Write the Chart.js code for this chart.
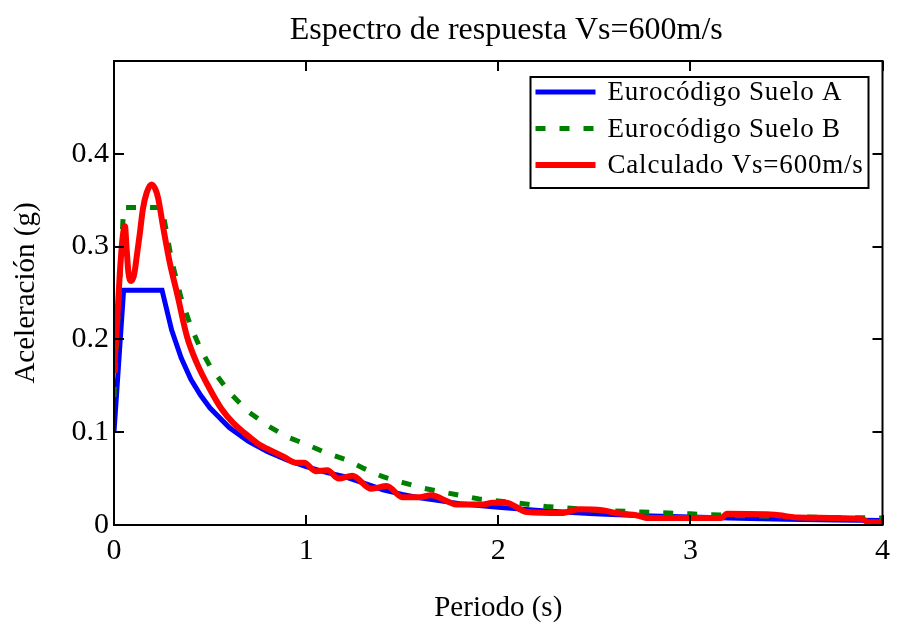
<!DOCTYPE html>
<html>
<head>
<meta charset="utf-8">
<script src="https://cdn.jsdelivr.net/npm/chart.js@4.4.1/dist/chart.umd.min.js"></script>
<style>
  html, body { margin: 0; padding: 0; background: #fff; }
  #wrap { width: 898px; height: 626px; }
</style>
</head>
<body>
<div id="wrap"><canvas id="chart" width="898" height="626"></canvas></div>
<script>
// periodos (s) de los espectros del Eurocódigo
const periodsEC = [0, 0.05, 0.25, 0.3, 0.35, 0.4, 0.45, 0.5, 0.6, 0.7, 0.8, 0.9, 1.0, 1.1, 1.2,
  1.3, 1.4, 1.5, 1.6, 1.7, 1.8, 1.9, 2.0, 2.25, 2.5, 2.75, 3.0, 3.25, 3.5, 3.75, 4.0];
const sueloA = [0.100, 0.253, 0.253, 0.210, 0.180, 0.157, 0.140, 0.126, 0.105, 0.090, 0.079, 0.070, 0.063, 0.057, 0.052,
  0.045, 0.038, 0.033, 0.029, 0.026, 0.023, 0.021, 0.019, 0.015, 0.012, 0.010, 0.0085, 0.0072, 0.0062, 0.0054, 0.0048];
const sueloB = [0.138, 0.342, 0.342, 0.285, 0.244, 0.214, 0.190, 0.171, 0.143, 0.122, 0.107, 0.095, 0.087, 0.078, 0.071,
  0.061, 0.052, 0.046, 0.040, 0.036, 0.032, 0.028, 0.026, 0.020, 0.016, 0.014, 0.012, 0.010, 0.009, 0.008, 0.0075];

// espectro calculado
const periodsCalc = [0, 0.015, 0.03, 0.045, 0.057, 0.065, 0.075, 0.09, 0.105, 0.12, 0.135, 0.15, 0.17, 0.195,
  0.215, 0.23, 0.255, 0.29, 0.33, 0.38, 0.43, 0.5, 0.56, 0.62, 0.68, 0.74, 0.76, 0.81, 0.88, 0.95, 0.99,
  1.05, 1.11, 1.17, 1.24, 1.34, 1.42, 1.5, 1.59, 1.65, 1.74, 1.78, 1.92, 1.97, 2.04, 2.15, 2.33, 2.42,
  2.54, 2.61, 2.73, 2.77, 3.16, 3.19, 3.44, 3.56, 3.89, 3.93, 4.0];
const calculado = [0.164, 0.215, 0.270, 0.310, 0.322, 0.300, 0.272, 0.263, 0.270, 0.292, 0.315, 0.340, 0.358, 0.367,
  0.362, 0.352, 0.322, 0.283, 0.248, 0.203, 0.175, 0.146, 0.125, 0.110, 0.099, 0.089, 0.086, 0.081, 0.074, 0.067, 0.067,
  0.058, 0.059, 0.050, 0.053, 0.039, 0.042, 0.030, 0.030, 0.032, 0.025, 0.022, 0.022, 0.024, 0.024, 0.014, 0.013, 0.017,
  0.016, 0.013, 0.010, 0.0075, 0.0075, 0.012, 0.011, 0.008, 0.0065, 0.003, 0.003];

const xTicks = [0, 1, 2, 3, 4];
const yTicks = [0, 0.1, 0.2, 0.3, 0.4];
const titulo = 'Espectro de respuesta Vs=600m/s';

const serif = '"Liberation Serif", "Times New Roman", serif';
const toPoints = (xs, ys) => xs.map((x, i) => ({ x: x, y: ys[i] }));

// titulo, marco, marcas interiores y leyenda con recuadro
const frame = {
  id: 'frame',
  afterDatasetsDraw(chart) {
    const c = chart.ctx;
    const a = chart.chartArea;
    const sx = chart.scales.x, sy = chart.scales.y;
    c.save();
    c.fillStyle = '#000';
    c.font = '32px ' + serif;
    c.textAlign = 'center';
    c.textBaseline = 'alphabetic';
    c.fillText(titulo, (a.left + a.right) / 2 + 8, 39);

    c.strokeStyle = '#000';
    c.lineWidth = 2;
    c.strokeRect(a.left, a.top, a.right - a.left, a.bottom - a.top);
    c.beginPath();
    xTicks.forEach(v => {
      const px = Math.round(sx.getPixelForValue(v));
      c.moveTo(px, a.bottom); c.lineTo(px, a.bottom - 10);
      c.moveTo(px, a.top); c.lineTo(px, a.top + 10);
    });
    yTicks.forEach(v => {
      const py = Math.round(sy.getPixelForValue(v));
      c.moveTo(a.left, py); c.lineTo(a.left + 10, py);
      c.moveTo(a.right, py); c.lineTo(a.right - 10, py);
    });
    c.stroke();

    // leyenda
    const bx = a.right - 352, by = a.top + 16, bw = 338, bh = 111;
    c.fillStyle = '#fff';
    c.fillRect(bx, by, bw, bh);
    c.strokeRect(bx, by, bw, bh);
    c.font = '27px ' + serif;
    c.textBaseline = 'middle';
    c.textAlign = 'left';
    if ('letterSpacing' in c) c.letterSpacing = '0.8px';
    chart.data.datasets.forEach((ds, i) => {
      const y = by + 15 + i * 36.5;
      c.save();
      c.strokeStyle = ds.borderColor;
      c.lineWidth = ds.borderWidth;
      c.setLineDash(ds.borderDash || []);
      c.beginPath();
      c.moveTo(bx + 5, y); c.lineTo(bx + 65, y);
      c.stroke();
      c.restore();
      c.fillStyle = '#000';
      c.fillText(ds.label, bx + 77, y + 1);
    });
    c.restore();
  }
};

const ctx = document.getElementById('chart').getContext('2d');
new Chart(ctx, {
  type: 'line',
  data: {
    datasets: [
      { label: 'Eurocódigo Suelo A', data: toPoints(periodsEC, sueloA), borderColor: '#0000ff',
        borderWidth: 5, pointRadius: 0, tension: 0, order: 2 },
      { label: 'Eurocódigo Suelo B', data: toPoints(periodsEC, sueloB), borderColor: '#008000',
        borderWidth: 5, borderDash: [10, 14], pointRadius: 0, tension: 0, order: 1 },
      { label: 'Calculado Vs=600m/s', data: toPoints(periodsCalc, calculado), borderColor: '#ff0000',
        borderWidth: 6, pointRadius: 0, cubicInterpolationMode: 'monotone', order: 0 }
    ]
  },
  options: {
    responsive: false,
    animation: false,
    devicePixelRatio: 1,
    layout: { padding: { left: 0, right: 14, top: 61, bottom: 0 } },
    plugins: {
      legend: { display: false },
      tooltip: { enabled: false },
      title: { display: false }
    },
    scales: {
      x: {
        type: 'linear', min: 0, max: 4,
        afterBuildTicks: s => { s.ticks = xTicks.map(v => ({ value: v })); },
        afterFit: s => { s.height = 101; },
        grid: { display: false, drawTicks: false },
        border: { display: false },
        ticks: { color: '#000', font: { family: serif, size: 30 }, padding: 8, maxRotation: 0,
          callback: v => String(v) },
        title: { display: true, text: 'Periodo (s)', color: '#000',
          font: { family: serif, size: 29 }, padding: { top: 2, bottom: 0 } }
      },
      y: {
        type: 'linear', min: 0, max: 0.5,
        afterBuildTicks: s => { s.ticks = yTicks.map(v => ({ value: v })); },
        afterFit: s => { s.width = 114; },
        grid: { display: false, drawTicks: false },
        border: { display: false },
        ticks: { color: '#000', font: { family: serif, size: 30 }, padding: 5,
          callback: v => v === 0 ? '0' : v.toFixed(1) },
        title: { display: true, text: 'Aceleración (g)', color: '#000',
          font: { family: serif, size: 29 }, padding: { top: 9, bottom: 0 } }
      }
    }
  },
  plugins: [frame]
});
</script>
</body>
</html>
